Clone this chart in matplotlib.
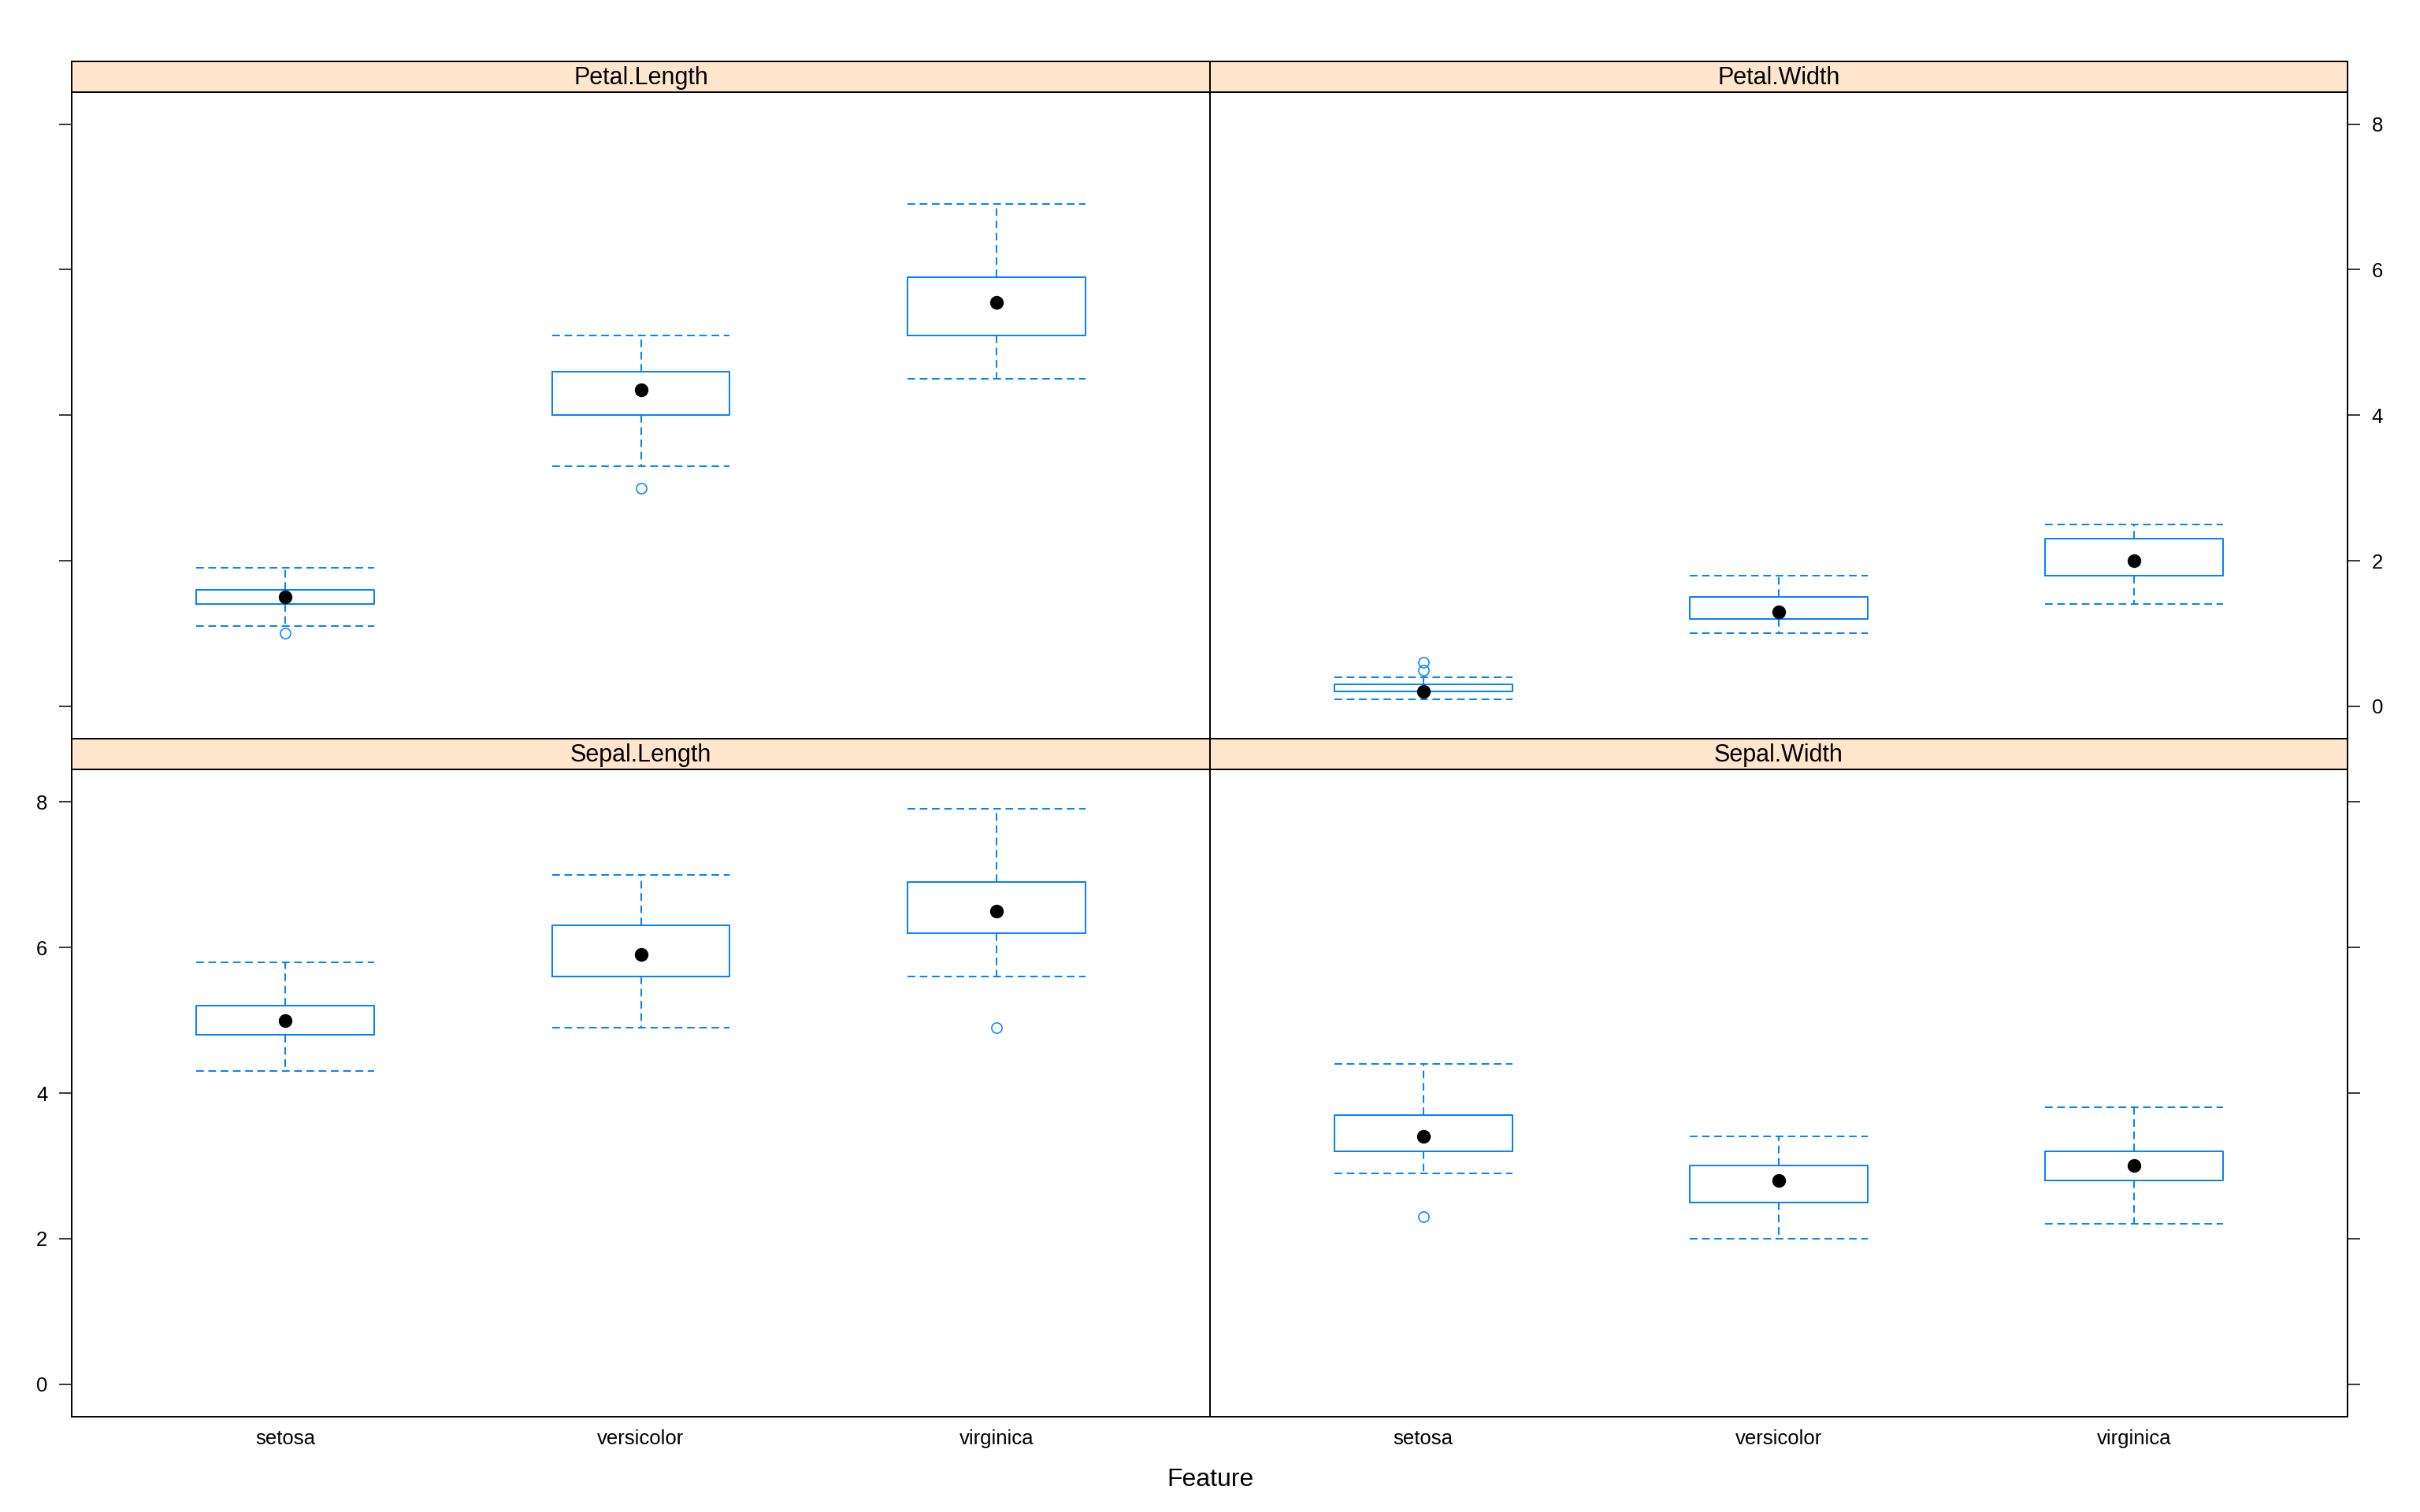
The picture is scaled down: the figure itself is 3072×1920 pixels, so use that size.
import matplotlib
matplotlib.use("Agg")
import matplotlib.pyplot as plt

plt.rcParams['font.family'] = ['Liberation Sans', 'DejaVu Sans']

species = ["setosa", "versicolor", "virginica"]
features = ["Petal.Length", "Petal.Width", "Sepal.Length", "Sepal.Width"]

# five-number style summaries: per feature, per species
q1 = {
    "Petal.Length": [1.4, 4.0, 5.1],
    "Petal.Width": [0.2, 1.2, 1.8],
    "Sepal.Length": [4.8, 5.6, 6.2],
    "Sepal.Width": [3.2, 2.5, 2.8],
}
median = {
    "Petal.Length": [1.5, 4.35, 5.55],
    "Petal.Width": [0.2, 1.3, 2.0],
    "Sepal.Length": [5.0, 5.9, 6.5],
    "Sepal.Width": [3.4, 2.8, 3.0],
}
q3 = {
    "Petal.Length": [1.6, 4.6, 5.9],
    "Petal.Width": [0.3, 1.5, 2.3],
    "Sepal.Length": [5.2, 6.3, 6.9],
    "Sepal.Width": [3.7, 3.0, 3.2],
}
whisker_lo = {
    "Petal.Length": [1.1, 3.3, 4.5],
    "Petal.Width": [0.1, 1.0, 1.4],
    "Sepal.Length": [4.3, 4.9, 5.6],
    "Sepal.Width": [2.9, 2.0, 2.2],
}
whisker_hi = {
    "Petal.Length": [1.9, 5.1, 6.9],
    "Petal.Width": [0.4, 1.8, 2.5],
    "Sepal.Length": [5.8, 7.0, 7.9],
    "Sepal.Width": [4.4, 3.4, 3.8],
}
outliers = {
    "Petal.Length": [[1.0], [3.0], []],
    "Petal.Width": [[0.5, 0.6], [], []],
    "Sepal.Length": [[], [], [4.9]],
    "Sepal.Width": [[2.3], [], []],
}
y_ticks = [0, 2, 4, 6, 8]
x_label = "Feature"

BLUE = "#0080ff"
STRIP = "#ffe5cc"
W, H = 3072, 1920
fig = plt.figure(figsize=(W / 100, H / 100), dpi=100)

x_edges = [91, 1536, 2980]
rows = [  # (strip_top, panel_top, panel_bottom)
    (77.5, 116.5, 938.0),
    (938.0, 977.0, 1799.0),
]
ylim = (-0.446, 8.446)

def frac(x0, x1, ytop, ybot):
    return [x0 / W, 1 - ybot / H, (x1 - x0) / W, (ybot - ytop) / H]

dash = (0, (5, 3))
positions = [1, 2, 3]

for i, feat in enumerate(features):
    r, c = divmod(i, 2)
    st, pt, pb = rows[r]
    x0, x1 = x_edges[c], x_edges[c + 1]
    ax = fig.add_axes(frac(x0, x1, pt, pb))
    stats = []
    for k in range(3):
        stats.append(dict(med=median[feat][k], q1=q1[feat][k], q3=q3[feat][k],
                          whislo=whisker_lo[feat][k], whishi=whisker_hi[feat][k],
                          fliers=outliers[feat][k]))
    ax.bxp(stats, positions=positions, widths=0.5, capwidths=0.5,
           boxprops=dict(color=BLUE, linewidth=1.4),
           whiskerprops=dict(color=BLUE, linewidth=1.4, linestyle=dash),
           capprops=dict(color=BLUE, linewidth=1.4, linestyle=dash),
           medianprops=dict(linestyle="none"),
           flierprops=dict(marker="o", markerfacecolor="none", markeredgecolor=BLUE,
                           markersize=9.5, markeredgewidth=1.1),
           manage_ticks=False)
    ax.plot(positions, median[feat], "o", color="black", markersize=11.5, zorder=5,
            linestyle="none")
    ax.set_xlim(0.4, 3.6)
    ax.set_ylim(*ylim)
    ax.set_yticks(y_ticks)
    for s in ax.spines.values():
        s.set_linewidth(1.4)
    ax.tick_params(axis="both", labelsize=18.5, width=1.1, length=11.5, pad=10.5, colors="black")
    if c == 0:
        ax.yaxis.tick_left()
        ax.tick_params(axis="y", labelleft=(r == 1))
    else:
        ax.yaxis.tick_right()
        ax.tick_params(axis="y", labelright=(r == 0))
    ax.set_xticks(positions)
    if r == 1:
        ax.set_xticklabels(species)
        ax.tick_params(axis="x", length=0, pad=11.5)
    else:
        ax.set_xticklabels([])
        ax.tick_params(axis="x", length=0)

    sax = fig.add_axes(frac(x0, x1, st, pt))
    sax.set_facecolor(STRIP)
    sax.set_xticks([])
    sax.set_yticks([])
    for s in sax.spines.values():
        s.set_linewidth(1.4)
    sax.text(0.5, 0.45, feat, ha="center", va="center", fontsize=22, transform=sax.transAxes)

fig.text(1536 / W, 1 - 1879 / H, x_label, ha="center", va="center", fontsize=23)

fig.savefig("out.png", dpi=100, facecolor="white")
